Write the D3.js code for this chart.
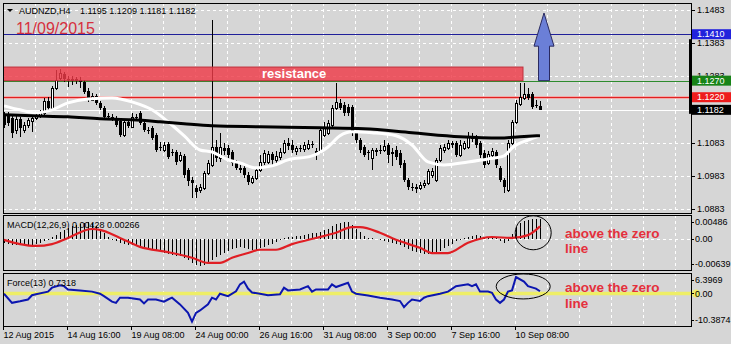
<!DOCTYPE html>
<html>
<head>
<meta charset="utf-8">
<script src="https://cdnjs.cloudflare.com/ajax/libs/d3/7.8.5/d3.min.js"></script>
<style>
  body { margin:0; background:#d6d6d6; }
  svg text { font-family:"Liberation Sans", Arial, sans-serif; }
</style>
</head>
<body>
<svg id="chart" width="731" height="344"></svg>
<script>
// AUDNZD H4 candles, first bar 12 Aug 2015 00:00
var opens = [1.1167,1.1164,1.1158,1.1122,1.1155,1.1122,1.1137,1.1149,1.1158,1.1164,
 1.1173,1.1209,1.1188,1.1248,1.1278,1.1290,1.1275,1.1272,1.1275,1.1272,
 1.1266,1.1239,1.1212,1.1224,1.1203,1.1188,1.1164,1.1161,1.1158,1.1149,
 1.1107,1.1146,1.1131,1.1161,1.1173,1.1143,1.1122,1.1128,1.1107,1.1070,
 1.1061,1.1079,1.1055,1.1055,1.1031,1.1043,1.1001,1.0971,1.0947,1.0941,
 1.0947,1.0992,1.1016,1.1070,1.1037,1.1067,1.1067,1.1055,1.1025,1.1007,
 1.1007,1.0986,1.0965,1.0977,1.1001,1.1025,1.1025,1.1049,1.1031,1.1040,
 1.1055,1.1082,1.1076,1.1058,1.1067,1.1064,1.1067,1.1079,1.1058,1.1055,
 1.1107,1.1113,1.1137,1.1188,1.1203,1.1197,1.1191,1.1191,1.1113,1.1091,
 1.1070,1.1055,1.1037,1.1061,1.1061,1.1061,1.1076,1.1055,1.1061,1.1052,
 1.1022,1.0971,1.0950,1.0950,1.0947,1.0956,1.0962,1.0986,1.0971,1.1031,
 1.1061,1.1067,1.1082,1.1082,1.1046,1.1067,1.1070,1.1101,1.1101,1.1082,
 1.1052,1.1022,1.1046,1.1055,1.1007,1.0971,1.0941,1.1082,1.1146,1.1200,
 1.1218,1.1230,1.1230,1.1197,1.1195];
var highs = [1.1176,1.1176,1.1164,1.1164,1.1161,1.1146,1.1158,1.1167,1.1170,1.1182,
 1.1218,1.1221,1.1254,1.1302,1.1305,1.1296,1.1284,1.1284,1.1281,1.1281,
 1.1272,1.1248,1.1233,1.1230,1.1209,1.1194,1.1173,1.1170,1.1164,1.1155,
 1.1152,1.1155,1.1173,1.1170,1.1179,1.1149,1.1131,1.1134,1.1113,1.1085,
 1.1085,1.1085,1.1064,1.1061,1.1055,1.1049,1.1007,1.0980,1.0956,1.0959,
 1.0998,1.1031,1.1453,1.1091,1.1113,1.1082,1.1076,1.1061,1.1031,1.1016,
 1.1019,1.0995,1.0983,1.1007,1.1046,1.1061,1.1058,1.1055,1.1058,1.1067,
 1.1091,1.1097,1.1091,1.1073,1.1076,1.1085,1.1091,1.1088,1.1067,1.1128,
 1.1146,1.1152,1.1197,1.1263,1.1215,1.1206,1.1200,1.1197,1.1119,1.1097,
 1.1076,1.1061,1.1067,1.1067,1.1076,1.1091,1.1082,1.1067,1.1073,1.1061,
 1.1031,1.0977,1.0962,1.0959,1.0965,1.0971,1.1004,1.1007,1.1037,1.1076,
 1.1079,1.1091,1.1088,1.1088,1.1091,1.1088,1.1116,1.1113,1.1107,1.1088,
 1.1061,1.1058,1.1067,1.1061,1.1013,1.0977,1.1091,1.1152,1.1212,1.1263,
 1.1263,1.1248,1.1236,1.1212,1.1209];
var lows = [1.1128,1.1134,1.1097,1.1110,1.1101,1.1113,1.1128,1.1116,1.1152,1.1158,
 1.1167,1.1182,1.1182,1.1242,1.1272,1.1266,1.1251,1.1257,1.1260,1.1248,
 1.1230,1.1206,1.1209,1.1197,1.1182,1.1155,1.1152,1.1149,1.1131,1.1101,
 1.1101,1.1128,1.1128,1.1149,1.1137,1.1116,1.1110,1.1091,1.1055,1.1058,
 1.1055,1.1034,1.1043,1.1016,1.1025,1.0977,1.0953,1.0917,1.0917,1.0932,
 1.0941,1.0986,1.1010,1.1025,1.1025,1.1046,1.1037,1.1013,1.1001,1.0992,
 1.0977,1.0956,1.0959,1.0971,1.0995,1.1016,1.1019,1.1016,1.1022,1.1031,
 1.1049,1.1061,1.1052,1.1046,1.1055,1.1055,1.1061,1.1067,1.1031,1.1049,
 1.1101,1.1107,1.1131,1.1182,1.1182,1.1164,1.1164,1.1104,1.1082,1.1052,
 1.1040,1.1031,1.1001,1.1043,1.1049,1.1055,1.1022,1.1013,1.1031,1.1007,
 1.0965,1.0941,1.0938,1.0932,1.0941,1.0947,1.0956,1.0977,1.0965,1.1025,
 1.1052,1.1061,1.1067,1.1040,1.1040,1.1061,1.1064,1.1085,1.1067,1.1037,
 1.1007,1.1016,1.1037,1.1007,1.0965,1.0932,1.0935,1.1076,1.1140,1.1194,
 1.1212,1.1212,1.1185,1.1188,1.1181];
var closes = [1.1137,1.1143,1.1113,1.1155,1.1128,1.1137,1.1152,1.1158,1.1164,1.1176,
 1.1209,1.1188,1.1248,1.1272,1.1293,1.1275,1.1272,1.1275,1.1269,1.1266,
 1.1236,1.1212,1.1224,1.1203,1.1188,1.1161,1.1161,1.1158,1.1137,1.1107,
 1.1146,1.1134,1.1161,1.1158,1.1143,1.1122,1.1119,1.1097,1.1061,1.1067,
 1.1076,1.1040,1.1052,1.1025,1.1046,1.0986,1.0968,1.0962,1.0935,1.0950,
 1.0992,1.1022,1.1070,1.1037,1.1070,1.1058,1.1046,1.1022,1.1007,1.1001,
 1.0986,1.0965,1.0977,1.1001,1.1025,1.1052,1.1049,1.1031,1.1043,1.1055,
 1.1082,1.1073,1.1061,1.1067,1.1066,1.1076,1.1079,1.1076,1.1046,1.1122,
 1.1128,1.1143,1.1188,1.1206,1.1188,1.1173,1.1173,1.1113,1.1091,1.1061,
 1.1046,1.1052,1.1061,1.1055,1.1058,1.1073,1.1046,1.1049,1.1040,1.1016,
 1.0971,1.0950,1.0947,1.0944,1.0956,1.0962,1.0998,1.0998,1.1031,1.1067,
 1.1070,1.1082,1.1076,1.1046,1.1076,1.1082,1.1101,1.1094,1.1076,1.1046,
 1.1016,1.1049,1.1058,1.1016,1.0971,1.0950,1.1082,1.1146,1.1203,1.1221,
 1.1230,1.1218,1.1191,1.1194,1.1182];

// moving averages (bar index, price)
var whiteMaBars = [0,4,8,12,16,21,27,32,37,41,45,49,52,56,59,63,67,71,77,81,84,87,92,98,102,106,110,116,121,125,127,131,134];
var whiteMaVals = [1.1194,1.1182,1.1173,1.1182,1.1203,1.1215,1.1218,1.1206,1.1182,1.1146,1.1104,1.1061,1.1055,1.1031,1.1022,1.1007,1.1013,1.1031,1.1043,1.1070,1.1104,1.1116,1.1113,1.1104,1.1076,1.1025,1.1016,1.1025,1.1034,1.1043,1.1067,1.1091,1.1104];
var blackMaBars = [0,7,16,24,32,39,45,52,64,79,90,102,114,124,129,134];
var blackMaVals = [1.1167,1.1164,1.1161,1.1155,1.1152,1.1146,1.1140,1.1134,1.1131,1.1128,1.1125,1.1113,1.1101,1.1097,1.1101,1.1104];

// MACD(12,26,9) histogram, one per bar
var macdHist = [-0.0008,-0.0010,-0.0012,-0.0013,-0.0014,-0.0014,-0.0013,-0.0012,-0.0010,-0.0008,
 -0.0005,-0.0002,0.0004,0.0009,0.0014,0.0019,0.0023,0.0027,0.0030,0.0032,
 0.0034,0.0035,0.0033,0.0028,0.0020,0.0012,0.0005,-0.0002,-0.0005,-0.0009,
 -0.0011,-0.0012,-0.0013,-0.0014,-0.0016,-0.0018,-0.0019,-0.0021,-0.0025,-0.0027,
 -0.0029,-0.0032,-0.0034,-0.0036,-0.0037,-0.0040,-0.0045,-0.0051,-0.0055,-0.0058,
 -0.0055,-0.0050,-0.0044,-0.0038,-0.0034,-0.0030,-0.0026,-0.0022,-0.0019,-0.0017,
 -0.0019,-0.0022,-0.0024,-0.0023,-0.0020,-0.0017,-0.0014,-0.0010,-0.0006,-0.0003,
 0.0001,0.0003,0.0005,0.0006,0.0007,0.0008,0.0010,0.0012,0.0013,0.0015,
 0.0018,0.0022,0.0027,0.0031,0.0033,0.0035,0.0036,0.0030,0.0022,0.0014,
 0.0007,0.0002,0.0001,-0.0001,-0.0003,-0.0004,-0.0006,-0.0009,-0.0011,-0.0014,
 -0.0018,-0.0022,-0.0025,-0.0028,-0.0030,-0.0032,-0.0033,-0.0033,-0.0030,-0.0025,
 -0.0020,-0.0015,-0.0010,-0.0005,-0.0002,0.0002,0.0005,0.0007,0.0008,0.0007,
 0.0005,0.0004,0.0003,0.0001,-0.0004,-0.0008,-0.0004,0.0010,0.0025,0.0034,
 0.0039,0.0041,0.0043,0.0043,0.00428];
var macdSignalBars = [0,4,8,12,16,22,24,29,34,41,47,51,54,57,61,64,68,72,78,83,87,89,94,98,104,107,111,116,122,127,131,134];
var macdSignalVals = [-0.0002,-0.0011,-0.0015,-0.0011,0.0002,0.0021,0.0019,0.0002,-0.0017,-0.0028,-0.0040,-0.0051,-0.0051,-0.0040,-0.0030,-0.0023,-0.0023,-0.0011,0.0002,0.0013,0.0025,0.0025,0.0013,-0.0002,-0.0019,-0.0030,-0.0030,-0.0008,0.0004,0.0002,0.0008,0.00266];

// Force(13)
var forceBars = [0,2,4,6,7,8,11,12,14,15,16,19,22,24,25,27,28,29,31,34,35,36,38,40,41,42,44,46,47,48,49,51,52,53,54,56,58,59,60,61,62,64,66,69,70,71,74,76,77,78,81,82,83,86,87,88,91,94,97,99,100,101,102,104,105,106,109,111,113,116,117,118,119,121,122,123,124,125,126,127,128,130,131,133,134];
var forceVals = [-0.1,-3.1,-2.6,-2.0,-0.6,-0.3,0.6,1.9,2.7,2.4,1.3,1.0,0.6,-0.1,-0.9,-2.7,-3.1,-1.4,-1.4,-2.0,-3.3,-2.0,-2.0,-2.7,-2.0,-1.4,-3.6,-6.4,-9.3,-6.4,-5.6,-3.6,-1.4,-2.0,-0.1,-0.9,0.7,3.0,3.9,1.6,0.3,-0.1,-0.6,-0.3,1.9,1.0,1.3,2.4,0.6,1.3,1.3,3.0,2.1,3.5,0.6,-0.1,-0.7,-1.4,-2.0,-2.5,-4.5,-3.1,-2.0,-2.5,-1.4,-0.9,-0.1,0.6,2.4,3.0,2.4,3.0,0.6,0.6,0.2,-2.0,-3.1,-2.0,0.6,1.0,5.4,3.9,2.4,1.6,0.7318];

var timeLabels = ["12 Aug 2015","14 Aug 16:00","19 Aug 08:00","24 Aug 00:00","26 Aug 16:00","31 Aug 08:00","3 Sep 00:00","7 Sep 16:00","10 Sep 08:00"];
var priceTicks = [1.1483,1.1383,1.1283,1.1183,1.1083,1.0983,1.0883];
var macdTicks = [0.00486, 0, -0.00639];
var macdTickLabels = ["0.00486","0.00","-0.00639"];
var forceTicks = [6.3969, 0, -10.3874];
var forceTickLabels = ["6.3969","0.00","-10.3874"];

// horizontal levels drawn on the chart
var targetLevel = 1.1410, supportLevel = 1.1270, pivotLevel = 1.1220, bidPrice = 1.1182;
var resistanceLow = 1.1270, resistanceHigh = 1.1311, resistanceToBar = 130;
var arrowBar = 135, arrowNeck = 1.1374, arrowTip = 1.1474;

var svg = d3.select("#chart");
var left = 3, right = 691;

var x = d3.scaleLinear().domain([0, 134]).range([4, 540]);
var yMain = d3.scaleLinear().domain([1.0883, 1.1483]).range([209, 10]);
var yMacd = d3.scaleLinear().domain([-0.00639, 0.00486]).range([269, 216]);
var yForce = d3.scaleLinear().domain([-10.3874, 6.3969]).range([325, 274]);

var panels = [{top:3, bottom:213}, {top:215, bottom:270}, {top:273, bottom:326}];

svg.append("rect").attr("width", 731).attr("height", 344).attr("fill", "#d6d6d6");

// clip per panel
var defs = svg.append("defs");
panels.forEach(function(p, i){
    defs.append("clipPath").attr("id", "clip" + i)
        .append("rect").attr("x", left).attr("y", p.top)
        .attr("width", right - left).attr("height", p.bottom - p.top);
});

// vertical dashed grid, every 8 bars
var gridBars = d3.range(8, 170, 8);
panels.forEach(function(p){
    svg.append("g").selectAll("line").data(gridBars).enter().append("line")
        .attr("x1", function(d){ return Math.round(x(d)) - 0.5; })
        .attr("x2", function(d){ return Math.round(x(d)) - 0.5; })
        .attr("y1", p.top).attr("y2", p.bottom)
        .attr("stroke", "#fff").attr("stroke-dasharray", "3,3");
});

// horizontal grid main
svg.append("g").selectAll("line").data(priceTicks).enter().append("line")
    .attr("x1", left).attr("x2", right)
    .attr("y1", function(d){ return Math.round(yMain(d)) + 0.5; })
    .attr("y2", function(d){ return Math.round(yMain(d)) + 0.5; })
    .attr("stroke", "#fff").attr("stroke-dasharray", "3,3");
svg.append("line").attr("x1", left).attr("x2", right)
    .attr("y1", Math.round(yMacd(0)) + 0.5).attr("y2", Math.round(yMacd(0)) + 0.5)
    .attr("stroke", "#fff").attr("stroke-dasharray", "3,3");

var main = svg.append("g").attr("clip-path", "url(#clip0)");

// level lines
function hline(g, yv, color, w){
    return g.append("line").attr("x1", left).attr("x2", right)
        .attr("y1", Math.round(yv) + 0.5).attr("y2", Math.round(yv) + 0.5)
        .attr("stroke", color).attr("stroke-width", w);
}
hline(main, yMain(targetLevel), "#20209a", 1);
hline(main, yMain(supportLevel), "#2e8b2e", 1);
hline(main, yMain(pivotLevel), "#f2a8a8", 3);
hline(main, yMain(pivotLevel), "#e02020", 1);
hline(main, yMain(bidPrice), "#ffffff", 1);

// candles
var idx = d3.range(opens.length);
var cg = main.append("g").attr("shape-rendering", "crispEdges");
cg.selectAll("line.wick").data(idx).enter().append("line")
    .attr("class", "wick")
    .attr("x1", function(i){ return x(i) + 0.5; })
    .attr("x2", function(i){ return x(i) + 0.5; })
    .attr("y1", function(i){ return yMain(highs[i]); })
    .attr("y2", function(i){ return yMain(lows[i]); })
    .attr("stroke", "#000");
cg.selectAll("rect.body").data(idx).enter().append("rect")
    .attr("class", "body")
    .attr("x", function(i){ return closes[i] >= opens[i] ? x(i) - 0.5 : x(i) - 1; })
    .attr("width", function(i){ return closes[i] >= opens[i] ? 2 : 3; })
    .attr("y", function(i){ return Math.round(yMain(Math.max(opens[i], closes[i]))) + (closes[i] >= opens[i] ? 0.5 : 0); })
    .attr("height", function(i){ return Math.max(1, Math.round(Math.abs(yMain(opens[i]) - yMain(closes[i])))); })
    .attr("fill", function(i){ return closes[i] >= opens[i] ? "#fff" : "#000"; })
    .attr("stroke", function(i){ return closes[i] >= opens[i] ? "#000" : "none"; });

// moving averages
var maLine = d3.line().curve(d3.curveMonotoneX)
    .x(function(d){ return x(d[0]); })
    .y(function(d){ return yMain(d[1]); });
main.append("path").datum(d3.zip(whiteMaBars, whiteMaVals))
    .attr("d", maLine).attr("fill", "none").attr("stroke", "#fff").attr("stroke-width", 3);
main.append("path").datum(d3.zip(blackMaBars, blackMaVals))
    .attr("d", maLine).attr("fill", "none").attr("stroke", "#000").attr("stroke-width", 3);

// resistance zone (drawn over the candles, a bit see-through)
var rx1 = x(0) - 1, rx2 = x(resistanceToBar) - 1;
main.append("rect")
    .attr("x", rx1).attr("y", yMain(resistanceHigh))
    .attr("width", rx2 - rx1).attr("height", yMain(resistanceLow) - yMain(resistanceHigh))
    .attr("fill", "#ee3a48").attr("fill-opacity", 0.82)
    .attr("stroke", "#c0303c").attr("stroke-width", 1);
main.append("text").attr("x", 262).attr("y", yMain(resistanceLow) - 3)
    .attr("fill", "#fff").attr("font-size", "13px").attr("font-weight", "bold")
    .text("resistance");

// big arrow up
var ax = x(arrowBar), yb = yMain(resistanceLow), yn = yMain(arrowNeck), yt = yMain(arrowTip);
main.append("path")
    .attr("d", "M" + (ax - 5.5) + "," + yb + "L" + (ax - 5.5) + "," + yn + "L" + (ax - 10) + "," + yn +
        "L" + ax + "," + yt + "L" + (ax + 10) + "," + yn + "L" + (ax + 5.5) + "," + yn + "L" + (ax + 5.5) + "," + yb + "Z")
    .attr("fill", "#6b7fd7").attr("stroke", "#2a2a60").attr("stroke-width", 1);

// titles
svg.append("path").attr("d", "M7,9L13,9L10,12Z").attr("fill", "#000");
svg.append("text").attr("x", 19).attr("y", 14).attr("font-size", "9px").text("AUDNZD,H4");
svg.append("text").attr("x", 80).attr("y", 14).attr("font-size", "9px").text("1.1195 1.1209 1.1181 1.1182");
svg.append("text").attr("x", 16).attr("y", 34).attr("font-size", "16px").attr("fill", "#d6303e").text("11/09/2015");

// MACD panel
var mg = svg.append("g").attr("clip-path", "url(#clip1)");
mg.append("g").attr("shape-rendering", "crispEdges")
    .selectAll("line").data(idx).enter().append("line")
    .attr("x1", function(i){ return x(i) + 0.5; })
    .attr("x2", function(i){ return x(i) + 0.5; })
    .attr("y1", yMacd(0))
    .attr("y2", function(i){ return yMacd(macdHist[i]); })
    .attr("stroke", "#000");
mg.append("path").datum(d3.zip(macdSignalBars, macdSignalVals))
    .attr("d", d3.line().curve(d3.curveMonotoneX)
        .x(function(d){ return x(d[0]); })
        .y(function(d){ return yMacd(d[1]); }))
    .attr("fill", "none").attr("stroke", "#e01e24").attr("stroke-width", 2.2);
svg.append("text").attr("x", 7).attr("y", 228).attr("font-size", "9px").text("MACD(12,26,9) 0.00428 0.00266");

// Force panel
var fg = svg.append("g").attr("clip-path", "url(#clip2)");
fg.append("line").attr("x1", left).attr("x2", right)
    .attr("y1", yForce(0)).attr("y2", yForce(0))
    .attr("stroke", "#eeee66").attr("stroke-width", 3.5);
fg.append("path").datum(d3.zip(forceBars, forceVals))
    .attr("d", d3.line()
        .x(function(d){ return x(d[0]); })
        .y(function(d){ return yForce(d[1]); }))
    .attr("fill", "none").attr("stroke", "#0c16b0").attr("stroke-width", 2);
svg.append("text").attr("x", 7).attr("y", 286).attr("font-size", "9px").text("Force(13) 0.7318");

// annotations
svg.append("ellipse").attr("cx", x(132.3)).attr("cy", yMacd(0.0013)).attr("rx", 18).attr("ry", 17)
    .attr("fill", "none").attr("stroke", "#000");
svg.append("ellipse").attr("cx", x(129.8)).attr("cy", yForce(2.3)).attr("rx", 27).attr("ry", 12.5)
    .attr("fill", "none").attr("stroke", "#000");
[[238, "above the zero"], [253, "line"], [292, "above the zero"], [308, "line"]].forEach(function(t){
    svg.append("text").attr("x", 565).attr("y", t[0])
        .attr("font-size", "13.5px").attr("font-weight", "bold").attr("fill", "#e4303c")
        .text(t[1]);
});

// panel borders
panels.forEach(function(p){
    svg.append("rect").attr("x", left + 0.5).attr("y", p.top + 0.5)
        .attr("width", right - left).attr("height", p.bottom - p.top)
        .attr("fill", "none").attr("stroke", "#000");
});

// right price axis
var ax1 = svg.append("g").attr("font-size", "9px");
ax1.selectAll("line").data(priceTicks).enter().append("line")
    .attr("x1", right).attr("x2", right + 4)
    .attr("y1", function(d){ return Math.round(yMain(d)) + 0.5; })
    .attr("y2", function(d){ return Math.round(yMain(d)) + 0.5; })
    .attr("stroke", "#000");
ax1.selectAll("text").data(priceTicks).enter().append("text")
    .attr("x", 697).attr("y", function(d){ return yMain(d); }).attr("dy", "0.35em")
    .text(function(d){ return d.toFixed(4); });

// bar next to the price scale
svg.append("rect").attr("x", 689).attr("y", yMain(1.1395)).attr("width", 3)
    .attr("height", yMain(bidPrice) - yMain(1.1395) + 4).attr("fill", "#000");

// coloured price tags
[[targetLevel, "#2222dc"], [supportLevel, "#178317"], [pivotLevel, "#ee1c1c"], [bidPrice, "#000"]].forEach(function(t){
    var yy = yMain(t[0]);
    svg.append("rect").attr("x", 692).attr("y", yy - 5).attr("width", 39).attr("height", 10).attr("fill", t[1]);
    svg.append("text").attr("x", 697).attr("y", yy).attr("dy", "0.35em")
        .attr("font-size", "9px").attr("fill", "#fff").text(t[0].toFixed(4));
});

// indicator scales
function sideAxis(scale, ticks, labels, p){
    ticks.forEach(function(v, k){
        var yy = Math.min(Math.max(scale(v), p.top + 7), p.bottom - 6);
        svg.append("line").attr("x1", right).attr("x2", right + 3)
            .attr("y1", Math.round(yy) + 0.5).attr("y2", Math.round(yy) + 0.5).attr("stroke", "#000");
        svg.append("text").attr("x", 695).attr("y", yy).attr("dy", "0.35em")
            .attr("font-size", "9px").text(labels[k]);
    });
}
sideAxis(yMacd, macdTicks, macdTickLabels, panels[1]);
svg.append("circle").attr("cx", 696).attr("cy", yForce(0)).attr("r", 4).attr("fill", "#eeee66");
sideAxis(yForce, forceTicks, forceTickLabels, panels[2]);

// time axis
var tg = svg.append("g").attr("font-size", "9px");
timeLabels.forEach(function(t, k){
    var tx = Math.round(x(k * 16)) - 1;
    tg.append("line").attr("x1", tx + 0.5).attr("x2", tx + 0.5).attr("y1", 326).attr("y2", 330).attr("stroke", "#000");
    tg.append("text").attr("x", tx + 0.5).attr("y", 338).text(t);
});
</script>
</body>
</html>
